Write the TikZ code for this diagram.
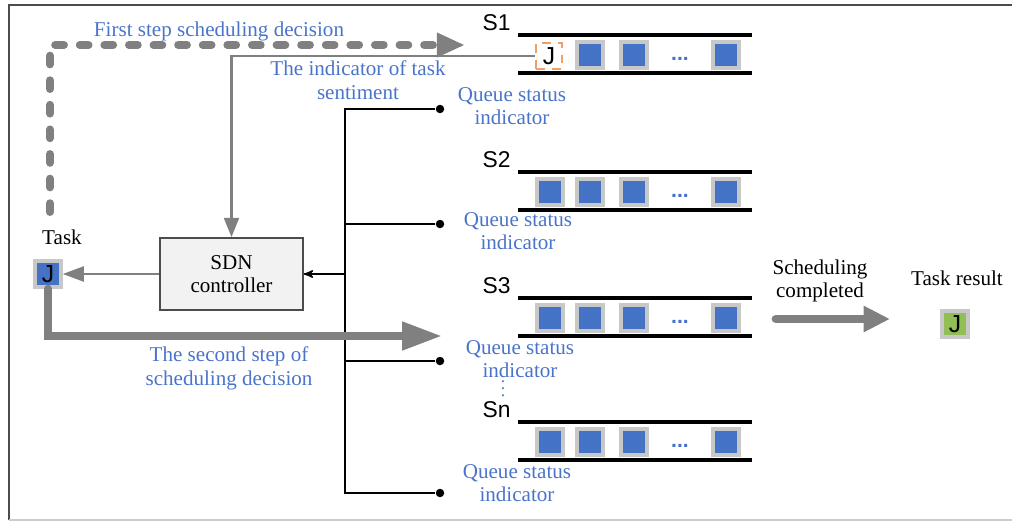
\documentclass[tikz,border=0pt]{standalone}
\usepackage{fontspec}
\setmainfont{Liberation Serif}
\newfontfamily\arialfont{Liberation Sans}
\usetikzlibrary{arrows,arrows.meta,positioning}

\definecolor{jobblue}{RGB}{68,114,196}
\definecolor{txtblue}{RGB}{74,116,202}
\definecolor{arrgray}{RGB}{128,128,128}
\definecolor{edgegray}{RGB}{200,200,200}
\definecolor{jobgreen}{RGB}{146,190,86}
\definecolor{joborange}{RGB}{240,160,100}

\begin{document}
\begin{tikzpicture}[x=0.02cm,y=-0.02cm,>=stealth',
   every node/.style={font=\fontsize{12}{13.5}\selectfont},
   lbl/.style={text=txtblue,align=center,inner sep=0pt},
   job/.style={draw=edgegray,line width=2pt,fill=jobblue,minimum size=0.52cm,inner sep=0pt,
               font=\arialfont\fontsize{14}{14}\selectfont},
   slabel/.style={font=\arialfont\fontsize{13}{13}\selectfont,inner sep=1pt},
   qline/.style={line width=2pt},
   dot/.style={circle,fill,minimum size=0.17cm,inner sep=0pt},
   grayline/.style={draw=arrgray,line width=1.4pt},
   fat/.style={draw=arrgray,line width=4.5pt}]
   \useasboundingbox (0,0) rectangle (1012,522);
   \draw[black!70,line width=1.2pt] (1012,5) -- (9,5) -- (9,520);
   \draw[black!20,line width=1pt] (9,520) -- (1012,520);

   % queues S1 .. Sn
   \foreach \q/\y/\lx/\ly/\dy in {1/35/512/106/109, 2/172/518/231/224, 3/298/520/359/361, n/422/517/483/493} {
      \coordinate (t\q) at (518,\y);
      \draw[qline] (t\q) -- ++(234,0);
      \draw[qline] (518,\y+38) -- ++(234,0);
      \node[slabel,above left=1pt and 3pt of t\q] (s\q) {S\q};
      \foreach \x in {590,634,726}
         \node[job] (b\q-\x) at (\x,\y+20) {};
      \node[text=jobblue,font=\arialfont\bfseries\fontsize{12}{12}\selectfont] (e\q) at (680,\y+24) {...};
      \node[lbl] (ind\q) at (\lx,\ly) {Queue status\\indicator};
      \node[dot] (d\q) at (440,\dy) {};
   }
   \foreach \q/\y in {2/172,3/298,n/422}
      \node[job] (b\q-550) at (550,\y+20) {};
   \node[lbl,font=\fontsize{10}{10}\selectfont] (vd) at (503,383) {$\vdots$};

   \node[job,fill=none,draw=joborange,line width=1.2pt,dash pattern=on 5pt off 4pt] (oj) at (549,56) {J};

   % controller and task
   \node[draw=black!70,fill=black!5,line width=1pt,minimum width=2.86cm,minimum height=1.44cm,align=center]
        (sdn) at (231.5,274) {SDN\\controller};
   \node[job] (task) at (48,274) {J};
   \node (tasklbl) at (62,237) {Task};

   % bus of queue status indicators
   \coordinate (bustop) at (345,109);
   \coordinate (busbot) at (345,493);
   \draw[line width=0.9pt] (d1) -- (bustop) -- (busbot) -- (dn);
   \draw[line width=0.9pt] (d2) -- (d2 -| bustop);
   \draw[line width=0.9pt] (d3) -- (d3 -| bustop);
   \draw[line width=0.9pt,->] (sdn.east -| bustop) -- (sdn.east);

   % scheduling decisions
   \coordinate (dashstart) at (50,212);
   \coordinate (dashend) at (465,45);
   \draw[fat,arrgray,line cap=round,dash pattern=on 5pt off 9pt,-{Triangle[length=16pt,width=13pt]}]
        (dashstart) |- (dashend);
   \node[lbl] (first) at (219,31) {First step scheduling decision};

   \draw[grayline,-{Triangle[length=11pt,width=8.5pt]}] (oj.west) -| (sdn.north);
   \node[lbl] (senti) at (358,80) {The indicator of task\\sentiment};
   \draw[grayline,-{Triangle[length=12pt,width=8.5pt]}] (sdn.west) -- (task.east);

   \coordinate (secend) at (442,336);
   \draw[fat,line cap=round,-{Triangle[length=22.7pt,width=15.3pt]}] (task.south) |- (secend);
   \node[lbl] (second) at (229,368) {The second step of\\scheduling decision};

   % result
   \coordinate (donestart) at (776,319);
   \coordinate (doneend) at (890,319);
   \draw[fat,line width=5pt,line cap=round,-{Triangle[length=15pt,width=14pt]}] (donestart) -- (doneend);
   \node[align=center] (done) at (820,281) {Scheduling\\completed};
   \node (reslbl) at (957,278) {Task result};
   \node[job,fill=jobgreen] (res) at (955,324) {J};
\end{tikzpicture}
\end{document}
